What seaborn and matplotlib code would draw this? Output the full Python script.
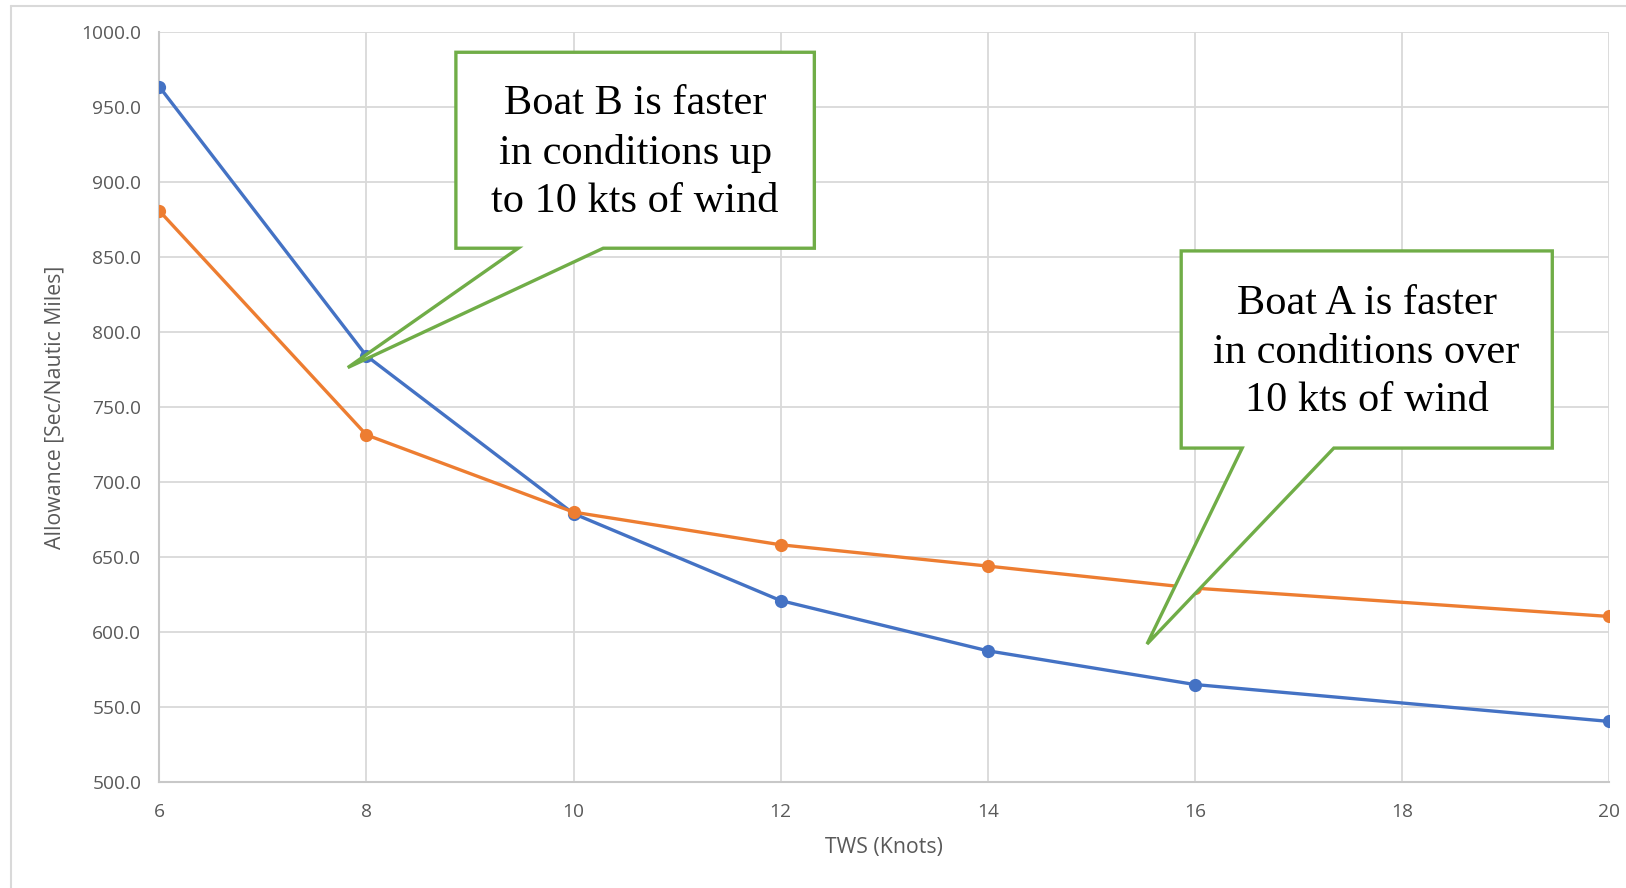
import pandas as pd
import matplotlib.pyplot as plt
import seaborn as sns
from matplotlib.patches import Polygon
from matplotlib.lines import Line2D

# === DATOS ===
tws = [6, 8, 10, 12, 14, 16, 20]
boat_a = [963.7, 784.2, 679.0, 621.0, 587.5, 565.0, 540.4]   # azul
boat_b = [880.9, 731.5, 680.0, 658.2, 644.0, 629.3, 610.4]   # naranja
y_ticks = [500, 550, 600, 650, 700, 750, 800, 850, 900, 950, 1000]
x_ticks = [6, 8, 10, 12, 14, 16, 18, 20]
texto_b = "Boat B is faster\nin conditions up\nto 10 kts of wind"
texto_a = "Boat A is faster\nin conditions over\n10 kts of wind"

df = pd.DataFrame({
    "TWS": tws * 2,
    "ALLOWANCE": boat_a + boat_b,
    "BOAT": ["Boat A"] * len(tws) + ["Boat B"] * len(tws),
})

# === CONFIGURACIÓN ===
sns.set_theme(style="white")
plt.rcParams["font.family"] = ["Open Sans", "DejaVu Sans"]

gris = "#d9d9d9"
verde = "#70AD47"

fig = plt.figure(figsize=(16.26, 8.88), dpi=100)
ax = fig.add_axes([0.098, 0.1194, 0.8915, 0.8442])

sns.lineplot(data=df, x="TWS", y="ALLOWANCE", hue="BOAT",
             palette={"Boat A": "#4472C4", "Boat B": "#ED7D31"},
             marker="o", markersize=9.5, markeredgewidth=0,
             linewidth=2.4, legend=False, ax=ax, zorder=3)

ax.set_xlim(6, 20)
ax.set_ylim(500, 1000)
ax.set_xticks(x_ticks)
ax.set_yticks(y_ticks)
ax.set_yticklabels([f"{v:.1f}" for v in y_ticks])
ax.grid(True, color=gris, linewidth=1.3)
ax.tick_params(axis="both", length=0, labelsize=13.8, labelcolor="#595959", pad=13)
ax.tick_params(axis="x", pad=15)
for lado in ["top", "right"]:
    ax.spines[lado].set_visible(False)
for lado in ["left", "bottom"]:
    ax.spines[lado].set_color("#c8c8c8")
    ax.spines[lado].set_linewidth(1.5)

ax.set_xlabel("TWS (Knots)", fontsize=15.3, color="#595959")
ax.set_ylabel("Allowance [Sec/Nautic Miles]", fontsize=15.3, color="#595959")
ax.xaxis.set_label_coords(0.5, -0.073)
ax.yaxis.set_label_coords(-0.065, 0.5)

# === LLAMADAS (callouts) ===
def callout(x0, x1, y0, y1, b0, b1, tip, texto, cx, cy):
    pts = [(x0, y1), (x1, y1), (x1, y0), (b1, y0), tip, (b0, y0), (x0, y0)]
    ax.add_patch(Polygon(pts, closed=True, facecolor="white", edgecolor=verde,
                         linewidth=2.4, zorder=5, joinstyle="miter"))
    ax.text(cx, cy, texto, ha="center", va="center", fontsize=30.5,
            family=["Liberation Serif", "DejaVu Serif"], color="black",
            linespacing=1.34, zorder=6)

callout(8.864, 12.326, 856.0, 986.7, 9.466, 10.287, (7.82, 776.4),
        texto_b, 10.595, 919.5)
callout(15.869, 19.453, 722.7, 854.2, 16.458, 17.343, (15.539, 592.0),
        texto_a, 17.66, 786.5)

# marco exterior del gráfico
fig.add_artist(Line2D([11 / 1626, 11 / 1626], [0, 1 - 6 / 888], color=gris, linewidth=1.5))
fig.add_artist(Line2D([11 / 1626, 1], [1 - 6 / 888, 1 - 6 / 888], color=gris, linewidth=1.5))

fig.savefig("out.png", dpi=100)
